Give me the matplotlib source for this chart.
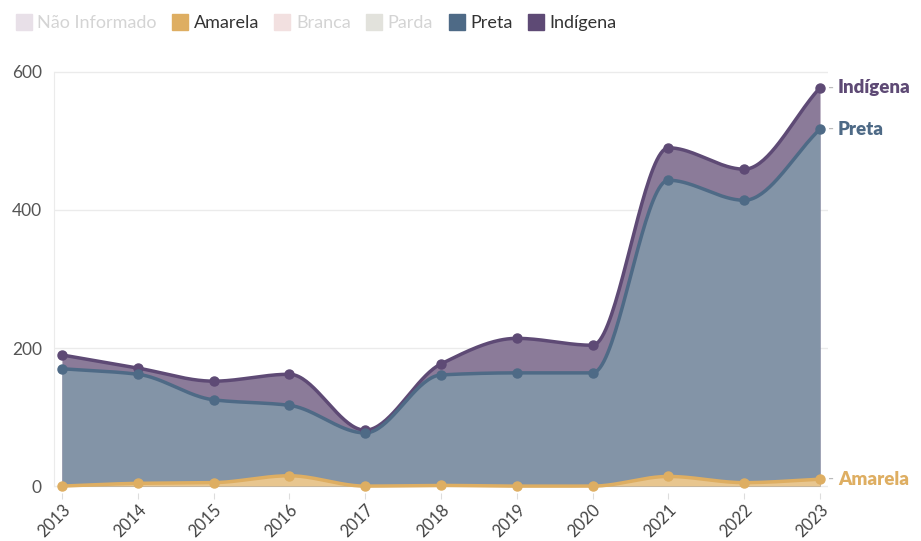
import numpy as np
import matplotlib
matplotlib.use('Agg')
import matplotlib.pyplot as plt
from matplotlib.lines import Line2D

plt.rcParams['font.family'] = ['Lato', 'DejaVu Sans']

years = [2013, 2014, 2015, 2016, 2017, 2018, 2019, 2020, 2021, 2022, 2023]
amarela = [0, 4, 5, 15, 0, 1, 0, 0, 14, 5, 10]
preta = [170, 162, 125, 117, 77, 161, 164, 164, 443, 414, 517]
indigena = [190, 171, 152, 162, 81, 177, 214, 204, 490, 459, 577]

legend_names = ['Não Informado', 'Amarela', 'Branca', 'Parda', 'Preta', 'Indígena']
legend_colors = ['#e8e0e8', '#deae62', '#f2e0e0', '#e2e2dc', '#4e6a86', '#5e4a75']
legend_text = ['#d4d4d4', '#333333', '#d4d4d4', '#d4d4d4', '#333333', '#333333']


def monotone(x, y, n=40):
    # Fritsch-Carlson monotone cubic, only used to draw a smooth curve
    x = np.asarray(x, float)
    y = np.asarray(y, float)
    h = np.diff(x)
    d = np.diff(y) / h
    m = np.zeros_like(y)
    m[0], m[-1] = d[0], d[-1]
    for i in range(1, len(y) - 1):
        if d[i - 1] * d[i] <= 0:
            m[i] = 0
        else:
            m[i] = 3 * (h[i - 1] + h[i]) / ((2 * h[i] + h[i - 1]) / d[i - 1] + (h[i] + 2 * h[i - 1]) / d[i])
    xs, ys = [], []
    for i in range(len(x) - 1):
        t = np.linspace(0, 1, n, endpoint=(i == len(x) - 2))
        h00 = 2 * t**3 - 3 * t**2 + 1
        h10 = t**3 - 2 * t**2 + t
        h01 = -2 * t**3 + 3 * t**2
        h11 = t**3 - t**2
        xs.append(x[i] + t * h[i])
        ys.append(h00 * y[i] + h10 * h[i] * m[i] + h01 * y[i + 1] + h11 * h[i] * m[i + 1])
    return np.concatenate(xs), np.concatenate(ys)


fig = plt.figure(figsize=(9.21, 5.41), dpi=100)
ax = fig.add_axes([0.059, 0.0887, 0.8396, 0.7913])

series = [
    ('Indígena', indigena, '#5e4a75', '#8b7b99'),
    ('Preta', preta, '#4e6a86', '#8394a7'),
    ('Amarela', amarela, '#deae62', '#e8c68f'),
]
for name, vals, lc, fc in series:
    xs, ys = monotone(years, vals)
    ax.fill_between(xs, 0, ys, color=fc, lw=0, zorder=2)
    ax.plot(xs, ys, color=lc, lw=2.5, zorder=3, solid_capstyle='round')
    ax.plot(years, vals, 'o', color=lc, ms=6.5, zorder=4)

ax.set_xlim(2012.9, 2023.1)
ax.set_ylim(-10, 610)
ax.set_yticks([0, 200, 400, 600])
ax.set_xticks(years)
ax.set_xticklabels([str(y) for y in years], rotation=45, ha='right', rotation_mode='anchor')
ax.grid(axis='y', color='#ebebeb', lw=1, zorder=0)
for s in ['top', 'right', 'bottom']:
    ax.spines[s].set_visible(False)
ax.spines['left'].set_color('#ebebeb')
ax.spines['left'].set_bounds(0, 600)
ax.tick_params(axis='y', length=0, labelsize=12.5, labelcolor='#555555', pad=9)
ax.tick_params(axis='x', length=4, color='#dddddd', labelsize=12, labelcolor='#444444', pad=2)

for name, vals, lc, fc in series:
    ax.annotate('-', xy=(years[-1], vals[-1]), xytext=(6, 0), textcoords='offset points',
                va='center', ha='left', color='#bbbbbb', fontsize=12, annotation_clip=False)
    ax.annotate(name, xy=(years[-1], vals[-1]), xytext=(13, 0), textcoords='offset points',
                va='center', ha='left', color=lc, fontsize=13.5, fontweight='heavy',
                annotation_clip=False)

handles = [Line2D([], [], ls='none', marker='s', ms=12, color=c, mec=c) for c in legend_colors]
leg = fig.legend(handles, legend_names, loc='upper left', bbox_to_anchor=(0.003, 0.995), ncol=6,
                 frameon=False, handlelength=0.9, handletextpad=0.3, columnspacing=0.85,
                 fontsize=13, borderaxespad=0.3)
for t, c in zip(leg.get_texts(), legend_text):
    t.set_color(c)

fig.savefig('out.png', dpi=100)
